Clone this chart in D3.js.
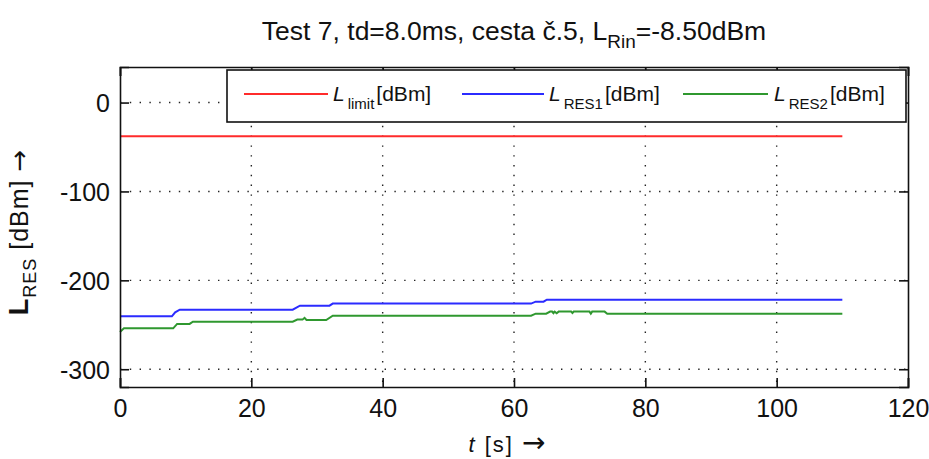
<!DOCTYPE html>
<html>
<head>
<meta charset="utf-8">
<script src="https://cdn.jsdelivr.net/npm/d3@7"></script>
<style>
  html, body { margin: 0; padding: 0; background: #fff; }
  svg { display: block; font-family: "Liberation Sans", Arial, sans-serif; }
  .arrow { font-family: "DejaVu Sans", sans-serif; }
</style>
</head>
<body>
<svg id="chart" width="929" height="459"></svg>
<script>
// Time axis ticks and value axis ticks
const xTicks = [0, 20, 40, 60, 80, 100, 120];
const yTicks = [-300, -200, -100, 0];

// Limit level
const timeLimit = [0, 110];
const valLimit = [-38, -38];

// Residual level, receiver 1
const timeRes1 = [0, 7.9, 8.4, 9.1, 26.3, 27.4, 31.9, 32.4, 62.6, 63.3, 64.5, 65.0, 110];
const valRes1 = [-240.5, -240.5, -236, -233, -233, -228.5, -228.5, -226.2, -226.2, -224, -224, -221.8, -221.8];

// Residual level, receiver 2
const timeRes2 = [0, 0.6, 8.1, 8.7, 10.6, 11.1, 26.3, 27.0, 27.8, 28.1, 28.4, 31.4, 32.4, 62.6, 63.3, 64.9, 65.5, 65.8, 66.0, 66.2, 66.5, 66.8, 68.7, 68.9, 69.1, 71.5, 71.7, 71.9, 73.8, 74.2, 110];
const valRes2 = [-258, -254, -254, -249, -249, -246.5, -246.5, -244.2, -244.2, -242.2, -244.6, -244.6, -239.8, -239.8, -237.5, -237.5, -235.2, -235.2, -237, -235.2, -237, -235.2, -235.2, -236.8, -235.2, -235.2, -237.5, -235.2, -235.2, -237.5, -237.5];

const seriesNames = ["limit", "RES1", "RES2"];
const seriesColors = ["#ff2b2b", "#2b2bff", "#2f982f"];

const svg = d3.select("#chart");
const plotLeft = 120, plotRight = 908, plotTop = 67, plotBottom = 387;

const x = d3.scaleLinear().domain([0, 120]).range([plotLeft, plotRight]);
const y = d3.scaleLinear().domain([-320, 40]).range([plotBottom, plotTop]);

// dotted grid
const grid = svg.append("g").attr("stroke", "#222").attr("stroke-width", 1.4)
  .attr("stroke-dasharray", "1.4,8.4");
grid.selectAll(".gx").data(xTicks.filter(t => t > 0 && t < 120)).join("line")
  .attr("x1", d => x(d)).attr("x2", d => x(d)).attr("y1", plotTop).attr("y2", plotBottom);
grid.selectAll(".gy").data(yTicks).join("line")
  .attr("y1", d => y(d)).attr("y2", d => y(d)).attr("x1", plotLeft).attr("x2", plotRight);

// data lines
const line = d3.line().x(d => x(d[0])).y(d => y(d[1]));
const series = [
  d3.zip(timeLimit, valLimit),
  d3.zip(timeRes1, valRes1),
  d3.zip(timeRes2, valRes2)
];
svg.append("g").selectAll("path").data(series).join("path")
  .attr("d", line).attr("fill", "none")
  .attr("stroke", (d, i) => seriesColors[i]).attr("stroke-width", 2);

// axes (box with inward ticks), labels with a plain hyphen for negatives
const plain = d => String(d);
const axB = svg.append("g").attr("transform", `translate(0,${plotBottom})`)
  .call(d3.axisBottom(x).tickValues(xTicks).tickSize(-9).tickPadding(12).tickFormat(plain));
const axT = svg.append("g").attr("transform", `translate(0,${plotTop})`)
  .call(d3.axisTop(x).tickValues(xTicks).tickSize(-9).tickFormat(""));
const axL = svg.append("g").attr("transform", `translate(${plotLeft},0)`)
  .call(d3.axisLeft(y).tickValues(yTicks).tickSize(-9).tickPadding(10).tickFormat(plain));
const axR = svg.append("g").attr("transform", `translate(${plotRight},0)`)
  .call(d3.axisRight(y).tickValues(yTicks).tickSize(-9).tickFormat(""));
[axB, axT, axL, axR].forEach(a => {
  a.select(".domain").attr("stroke", "#111").attr("stroke-width", 1.6);
  a.selectAll(".tick line").attr("stroke", "#111").attr("stroke-width", 1.6);
  a.selectAll("text").attr("font-size", 25).attr("fill", "#111")
    .attr("font-family", "Liberation Sans, Arial, sans-serif");
});
axL.selectAll(".tick text").attr("dy", "0.36em");
axB.selectAll(".tick text").attr("dy", "0.72em");

// legend
const lg = svg.append("g");
lg.append("rect").attr("x", 227).attr("y", 70).attr("width", 679).attr("height", 52)
  .attr("fill", "#fff").attr("stroke", "#111").attr("stroke-width", 1.6);
const legendLayout = [
  { x1: 244, x2: 328, tx: 333 },
  { x1: 462, x2: 544, tx: 549 },
  { x1: 683, x2: 768, tx: 774 }
];
seriesNames.forEach((name, i) => {
  const L = legendLayout[i];
  lg.append("line").attr("x1", L.x1).attr("x2", L.x2).attr("y1", 94).attr("y2", 94)
    .attr("stroke", seriesColors[i]).attr("stroke-width", 2);
  const t = lg.append("text").attr("x", L.tx).attr("y", 101).attr("fill", "#111").attr("font-size", 21);
  t.append("tspan").attr("font-style", "italic").text("L");
  t.append("tspan").attr("font-size", 15).attr("dy", 8).attr("dx", 3).text(name);
  t.append("tspan").attr("dy", -8).attr("dx", 2).text("[dBm]");
});

// title
const title = svg.append("text").attr("x", 514).attr("y", 40).attr("text-anchor", "middle")
  .attr("font-size", 26.5).attr("fill", "#111");
title.append("tspan").text("Test 7, td=8.0ms, cesta č.5, L");
title.append("tspan").attr("font-size", 19).attr("dy", 8).text("Rin");
title.append("tspan").attr("dy", -8).text("=-8.50dBm");

// y label
const yl = svg.append("text").attr("transform", `translate(28,${(plotTop + plotBottom) / 2 + 5}) rotate(-90)`)
  .attr("text-anchor", "middle").attr("fill", "#111").attr("font-size", 25)
  .attr("letter-spacing", 1);
yl.append("tspan").attr("font-weight", "bold").attr("font-size", 27).text("L");
yl.append("tspan").attr("font-size", 18).attr("dy", 8).text("RES");
yl.append("tspan").attr("dy", -8).text(" [dBm] ");
yl.append("tspan").attr("class", "arrow").attr("font-size", 26).text("→");

// x label
const xl = svg.append("text").attr("x", 508).attr("y", 452).attr("text-anchor", "middle")
  .attr("fill", "#111").attr("font-size", 22).attr("letter-spacing", 2);
xl.append("tspan").attr("font-style", "italic").text("t");
xl.append("tspan").text(" [s] ");
xl.append("tspan").attr("class", "arrow").attr("font-size", 28).text("→");
</script>
</body>
</html>
